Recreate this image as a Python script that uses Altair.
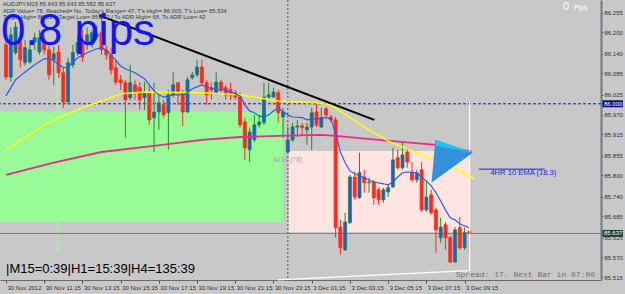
import json
import altair as alt
import pandas as pd

# ---------------- data ----------------
# AUDJPY M15 bars, index 0 = 30 Nov 2012 09:15, index 59 = 3 Dec 00:00
bar_open = [86.165, 86.075, 86.143, 86.173, 86.115, 86.117, 86.173, 86.145, 86.179, 86.151,
            86.123, 86.145, 86.087, 86.005, 86.109, 86.143, 86.179, 86.165, 86.165, 86.187,
            86.199, 86.151, 86.137, 86.101, 86.067, 86.059, 86.017, 86.053, 86.045, 86.017,
            86.033, 85.961, 85.977, 85.997, 85.975, 86.025, 86.059, 86.031, 85.977, 86.073,
            86.081, 86.103, 86.059, 86.045, 86.031, 86.061, 86.045, 86.039, 86.031, 86.019,
            85.949, 85.871, 85.899, 85.941, 85.947, 86.019, 86.019, 86.031, 85.963, 85.865,
            85.899, 85.935, 85.938, 85.927, 85.935, 85.977, 85.935, 85.986, 85.963, 85.955,
            85.655, 85.591, 85.667, 85.795, 85.737, 85.795, 85.779, 85.781, 85.759, 85.731,
            85.753, 85.767, 85.849, 85.821, 85.865, 85.809, 85.787, 85.815, 85.703, 85.745,
            85.703, 85.625, 85.661, 85.625, 85.557, 85.653, 85.597, 85.643]
bar_high = [86.179, 86.213, 86.229, 86.193, 86.179, 86.165, 86.199, 86.207, 86.190, 86.165,
            86.159, 86.165, 86.101, 86.129, 86.165, 86.193, 86.207, 86.213, 86.207, 86.221,
            86.249, 86.165, 86.157, 86.123, 86.081, 86.067, 86.109, 86.067, 86.061, 86.061,
            86.053, 86.059, 86.025, 86.011, 86.039, 86.089, 86.061, 86.039, 86.075, 86.089,
            86.123, 86.123, 86.067, 86.059, 86.089, 86.067, 86.053, 86.059, 86.039, 86.031,
            85.961, 85.933, 85.969, 85.969, 86.059, 86.059, 86.045, 86.039, 85.989, 85.935,
            85.947, 85.955, 85.947, 85.947, 85.989, 86.003, 85.989, 85.991, 85.969, 85.963,
            85.675, 85.695, 85.801, 85.809, 85.863, 85.815, 85.793, 85.787, 85.765, 85.765,
            85.773, 85.877, 85.871, 85.893, 85.877, 85.837, 85.815, 85.837, 85.781, 85.759,
            85.709, 85.681, 85.669, 85.630, 85.655, 85.683, 85.653, 85.643]
bar_low = [86.067, 86.061, 86.137, 86.101, 86.106, 86.112, 86.151, 86.137, 86.137, 86.067,
           86.053, 86.073, 85.989, 85.997, 86.101, 86.134, 86.117, 86.151, 86.157, 86.179,
           86.137, 86.123, 86.081, 86.053, 86.039, 85.905, 86.011, 86.011, 85.983, 85.983,
           85.941, 85.865, 85.927, 85.961, 85.871, 86.017, 85.997, 85.938, 85.975, 86.067,
           86.075, 86.053, 85.997, 86.011, 86.025, 86.031, 86.011, 86.011, 86.011, 85.933,
           85.843, 85.837, 85.893, 85.933, 85.941, 86.011, 86.017, 85.947, 85.905, 85.863,
           85.893, 85.907, 85.913, 85.885, 85.871, 85.935, 85.933, 85.963, 85.949, 85.625,
           85.577, 85.588, 85.664, 85.731, 85.734, 85.751, 85.751, 85.717, 85.717, 85.723,
           85.739, 85.765, 85.815, 85.815, 85.821, 85.781, 85.779, 85.697, 85.697, 85.689,
           85.583, 85.611, 85.591, 85.555, 85.555, 85.591, 85.591, 85.582]
bar_close = [86.075, 86.193, 86.215, 86.123, 86.157, 86.151, 86.185, 86.185, 86.151, 86.081,
             86.140, 86.087, 86.005, 86.115, 86.143, 86.171, 86.131, 86.193, 86.199, 86.196,
             86.151, 86.137, 86.095, 86.061, 86.059, 86.011, 86.059, 86.033, 86.011, 86.033,
             85.955, 85.977, 86.003, 85.969, 86.025, 86.053, 86.031, 85.977, 86.067, 86.081,
             86.103, 86.059, 86.025, 86.039, 86.061, 86.039, 86.025, 86.025, 86.019, 85.941,
             85.877, 85.921, 85.941, 85.949, 86.019, 86.025, 86.033, 85.975, 85.977, 85.899,
             85.935, 85.938, 85.933, 85.935, 85.975, 85.941, 85.961, 85.969, 85.955, 85.653,
             85.597, 85.669, 85.795, 85.739, 85.807, 85.779, 85.781, 85.737, 85.731, 85.759,
             85.765, 85.843, 85.821, 85.857, 85.837, 85.787, 85.807, 85.703, 85.739, 85.695,
             85.647, 85.655, 85.625, 85.557, 85.647, 85.597, 85.639, 85.637]

# fast EMA (blue)
ema_idx = [0, 2, 4, 6, 8, 9, 10, 12, 13, 14, 15, 17, 19, 20, 21, 22, 24, 25, 27, 29, 31, 32, 33,
           35, 37, 38, 39, 41, 42, 44, 46, 47, 48, 49, 50, 51, 52, 53, 54, 55, 56, 57, 58, 59,
           60, 62, 63, 65, 67, 68, 69, 70, 71, 72, 73, 75, 77, 79, 80, 81, 82, 83, 84, 86, 87,
           88, 89, 90, 91, 92, 93, 94, 95, 96, 97]
ema_val = [86.022, 86.067, 86.089, 86.109, 86.126, 86.127, 86.120, 86.102, 86.101, 86.117,
           86.129, 86.143, 86.154, 86.157, 86.151, 86.137, 86.106, 86.098, 86.087, 86.070,
           86.036, 86.025, 86.019, 86.025, 86.025, 86.031, 86.042, 86.053, 86.047, 86.039,
           86.039, 86.033, 86.028, 86.022, 85.997, 85.980, 85.975, 85.966, 85.963, 85.969,
           85.980, 85.989, 85.977, 85.969, 85.963, 85.961, 85.955, 85.958, 85.961, 85.958,
           85.919, 85.865, 85.835, 85.812, 85.804, 85.793, 85.781, 85.776, 85.773, 85.781,
           85.795, 85.807, 85.809, 85.807, 85.795, 85.784, 85.770, 85.751, 85.728, 85.703,
           85.681, 85.675, 85.664, 85.658, 85.653]
# slower MA (yellow)
ma_y_idx = [0, 4, 8, 12, 16, 20, 24, 29, 41, 49, 57, 65, 68, 72, 76, 80, 86, 94, 98]
ma_y_val = [85.871, 85.905, 85.941, 85.966, 85.989, 86.008, 86.028, 86.033, 86.031, 86.025,
            86.008, 86.003, 85.997, 85.961, 85.927, 85.896, 85.863, 85.818, 85.790]
# long MA (magenta)
ma_m_idx = [0, 10, 20, 31, 41, 49, 57, 66, 69, 78, 90, 97.5]
ma_m_val = [85.801, 85.835, 85.865, 85.882, 85.899, 85.907, 85.910, 85.913, 85.910, 85.899,
            85.885, 85.866]

tick_idx = [0, 8, 16, 24, 32, 40, 48, 56, 64, 72, 80, 88, 96]
tick_labels = ["30 Nov 2012", "30 Nov 11:15", "30 Nov 13:15", "30 Nov 15:15", "30 Nov 17:15",
               "30 Nov 19:15", "30 Nov 21:15", "30 Nov 23:15", "3 Dec 01:15", "3 Dec 03:15",
               "3 Dec 05:15", "3 Dec 07:15", "3 Dec 09:15"]
price_ticks = [86.255, 86.200, 86.140, 86.085, 86.025, 85.970, 85.915, 85.855, 85.800,
               85.740, 85.685, 85.625, 85.570, 85.515]

# annotations (bar index / price)
trend_idx = [19.8, 77.1]
trend_val = [86.246, 85.955]
green_box = dict(x=-1.5, x2=58.0, y=85.978, y2=85.670)
pink_box = dict(x=59.2, x2=97.0, y=85.868, y2=85.640)
day_sep_idx = 59
round_level = 86.000
bid_price = 85.637
t_high, t_low = 86.005, 85.532
low_line_idx = [56.9, 96.8]
low_line_val = [85.507, 85.533]
arrow_idx = [89.07, 89.9, 97.73]
arrow_top = [85.779, 85.899, 85.863]
arrow_bot = [85.779, 85.787, 85.863]
wedge_idx = [89.9, 97.73]
wedge_top = [85.899, 85.863]
wedge_bot = [85.882, 85.863]
ema4h_line_idx = [98.97, 112.8]
ema4h_level = 85.817

# ---------------- chart ----------------
W, H = 601, 280
xs = alt.Scale(domain=[-0.206, 123.51], nice=False, zero=False)
ys = alt.Scale(domain=[85.5066, 86.2906], nice=False, zero=False)
expr = json.dumps(tick_labels) + "[round(datum.value / 8)]"
xaxis = alt.Axis(values=tick_idx, labelExpr=expr, title=None, grid=False, labelAlign="left",
                 labelBaseline="top", labelPadding=1, labelOffset=1, labelFontSize=6,
                 labelFont="Liberation Sans Narrow, Liberation Sans", labelColor="#303030",
                 labelFlush=False, labelOverlap=False, tickSize=3, tickColor="#555555",
                 domainColor="#6a6a6a")
yaxis = alt.Axis(values=price_ticks, format=".3f", orient="right", title=None, grid=False,
                 labelFontSize=6, labelFont="Liberation Sans", labelColor="#303030",
                 labelPadding=1, tickSize=2, tickColor="#505050", domainColor="#6c7d86",
                 domainWidth=2, labelOverlap=False, labelFlush=False)


def X(f, **kw):
    return alt.X(f, type="quantitative", scale=xs, axis=xaxis, **kw)


def Y(f, **kw):
    return alt.Y(f, type="quantitative", scale=ys, axis=yaxis, **kw)


bars = pd.DataFrame({"i": list(range(len(bar_open))), "o": bar_open, "h": bar_high,
                     "l": bar_low, "c": bar_close})
bars["dir"] = ["up" if c >= o else "down" for o, c in zip(bar_open, bar_close)]

one = pd.DataFrame({"k": [0]})

boxes = pd.DataFrame([dict(green_box, col="#98fb98"), dict(pink_box, col="#ffe4e1")])
box_layer = alt.Chart(boxes).mark_rect().encode(
    x=X("x"), x2="x2", y=Y("y"), y2="y2", color=alt.Color("col:N", scale=None))

pale = alt.Chart(pd.DataFrame({"i": [10.8], "a": [86.100], "b": [85.577]})).mark_rule(
    color="#98fb98", strokeWidth=1.5).encode(x=X("i"), y=Y("a"), y2="b")

sep = alt.Chart(pd.DataFrame({"i": [day_sep_idx]})).mark_rule(
    color="#555555", strokeDash=[2, 2], strokeWidth=1).encode(x=X("i"))

lvl = alt.Chart(pd.DataFrame({"p": [round_level]})).mark_rule(
    color="#1c1c9c", strokeDash=[3, 2], strokeWidth=1).encode(y=Y("p"))
bid = alt.Chart(pd.DataFrame({"p": [bid_price]})).mark_rule(
    color="#7d7d7d", strokeWidth=1).encode(y=Y("p"))

wick_scale = alt.Scale(domain=["up", "down"], range=["#238b23", "#ff2a1a"])
body_scale = alt.Scale(domain=["up", "down"], range=["#2255ee", "#ff2a1a"])
wicks = alt.Chart(bars).mark_rule(strokeWidth=1).encode(
    x=X("i"), y=Y("l"), y2="h", stroke=alt.Stroke("dir:N", scale=wick_scale, legend=None))
bodies = alt.Chart(bars).mark_bar(size=3, strokeWidth=0.8).encode(
    x=X("i"), y=Y("o"), y2="c",
    fill=alt.Fill("dir:N", scale=body_scale, legend=None),
    stroke=alt.Stroke("dir:N", scale=wick_scale, legend=None))

mag = alt.Chart(pd.DataFrame({"i": ma_m_idx, "v": ma_m_val})).mark_line(
    color="#f0288c", strokeWidth=1.8).encode(x=X("i"), y=Y("v"))
yel = alt.Chart(pd.DataFrame({"i": ma_y_idx, "v": ma_y_val})).mark_line(
    color="#ffff00", strokeWidth=1.5).encode(x=X("i"), y=Y("v"))
ema = alt.Chart(pd.DataFrame({"i": ema_idx, "v": ema_val})).mark_line(
    color="#2f5be8", strokeWidth=1.2).encode(x=X("i"), y=Y("v"))

trend = alt.Chart(pd.DataFrame({"i": trend_idx, "v": trend_val})).mark_line(
    color="#000000", strokeWidth=2).encode(x=X("i"), y=Y("v"))
trend_pt = alt.Chart(pd.DataFrame({"i": trend_idx[:1], "v": trend_val[:1]})).mark_square(
    size=10, color="#1a1a70", opacity=1).encode(x=X("i"), y=Y("v"))

wv = alt.Chart(pd.DataFrame({"i": [97.05], "a": [t_high], "b": [t_low]})).mark_rule(
    color="#ffffff", strokeWidth=1.2).encode(x=X("i"), y=Y("a"), y2="b")
wl = alt.Chart(pd.DataFrame({"i": low_line_idx, "v": low_line_val})).mark_line(
    color="#ffffff", strokeWidth=1.2).encode(x=X("i"), y=Y("v"))

arrow = alt.Chart(pd.DataFrame({"i": arrow_idx, "a": arrow_top, "b": arrow_bot})).mark_area(
    color="#3390dc", opacity=1, orient="vertical").encode(x=X("i"), y=Y("a"), y2="b")
wedge = alt.Chart(pd.DataFrame({"i": wedge_idx, "a": wedge_top, "b": wedge_bot})).mark_area(
    color="#19c3f5", opacity=1, orient="vertical").encode(x=X("i"), y=Y("a"), y2="b")

ema4h_rule = alt.Chart(pd.DataFrame({"a": ema4h_line_idx[:1], "b": ema4h_line_idx[1:],
                                     "p": [ema4h_level]})).mark_rule(
    color="#2020d8", strokeWidth=1).encode(x=X("a"), x2="b", y=Y("p"))
ema4h_txt = alt.Chart(pd.DataFrame({"i": [101.4], "p": [85.806]})).mark_text(
    text="4HR 10 EMA (18.3)", align="left", baseline="middle", fontSize=7.6,
    font="Liberation Sans", color="#1e1ee0").encode(x=X("i"), y=Y("p"))
adr_txt = alt.Chart(pd.DataFrame({"i": [59.0], "p": [85.843]})).mark_text(
    text="ADR (78)", align="center", baseline="middle", fontSize=7,
    font="Liberation Sans", color="#a4aab4").encode(x=X("i"), y=Y("p"))

# highlighted price labels on the scale
hl = pd.DataFrame({"p": [round_level, bid_price], "t": ["86.000", "85.637"],
                   "bg": ["#0a0a80", "#23403c"]})
hl_box = alt.Chart(hl).mark_point(
    shape="M-1,-0.34L1,-0.34L1,0.34L-1,0.34Z", size=420, filled=True, opacity=1,
    strokeWidth=0).encode(x=alt.value(612.7), y=Y("p"), fill=alt.Fill("bg:N", scale=None))
hl_txt = alt.Chart(hl).mark_text(align="left", baseline="middle", fontSize=6,
                                 font="Liberation Sans", color="#ffffff").encode(
    x=alt.value(604), y=Y("p"), text="t:N")


def label(txt, x, y, size, color, font="Liberation Sans", align="left", weight="normal"):
    return alt.Chart(one).mark_text(text=txt, align=align, baseline="alphabetic",
                                    fontSize=size, font=font, color=color,
                                    fontWeight=weight).encode(x=alt.value(x), y=alt.value(y))


hdr_col = "#34403f"
texts = [
    label("AUDJPY,M15  85.643 85.643 85.582 85.637", 3, 6, 5.8, hdr_col),
    label("ADR Value= 78, Reached= No, Today's Range= 47, T's High= 86.003, T's Low= 85.534",
          3, 12.5, 5.8, hdr_col),
    label("Target High= 86.314, Target Low= 85.222 / To ADR High= 68, To ADR Low= 42",
          3, 19, 5.8, hdr_col),
    label("0.8 pips", 1, 45, 44, "#1414ff"),
    label("0", 563, 9.5, 11, "#ffffff"),
    label("Pips", 574, 9.5, 7, "#ffffff"),
    label("|M15=0:39|H1=15:39|H4=135:39", 6, 273, 13, "#000000"),
    label("Spread: 17. Next Bar in 07:00", 595, 277, 8, "#707070",
          font="Liberation Mono", align="right"),
]

chart = alt.layer(
    box_layer, pale, sep, lvl, bid, wicks, bodies, mag, yel, ema, trend, trend_pt,
    wv, wl, arrow, wedge, ema4h_rule, ema4h_txt, adr_txt, hl_box, hl_txt, *texts
).properties(
    width=W, height=H,
    padding={"left": 0, "top": 0, "right": 24, "bottom": 14},
    autosize=alt.AutoSizeParams(type="none"),
    background="#c8c8c8",
).configure_view(stroke=None)

chart.save("out.html", embed_options={"renderer": "svg", "actions": False})
